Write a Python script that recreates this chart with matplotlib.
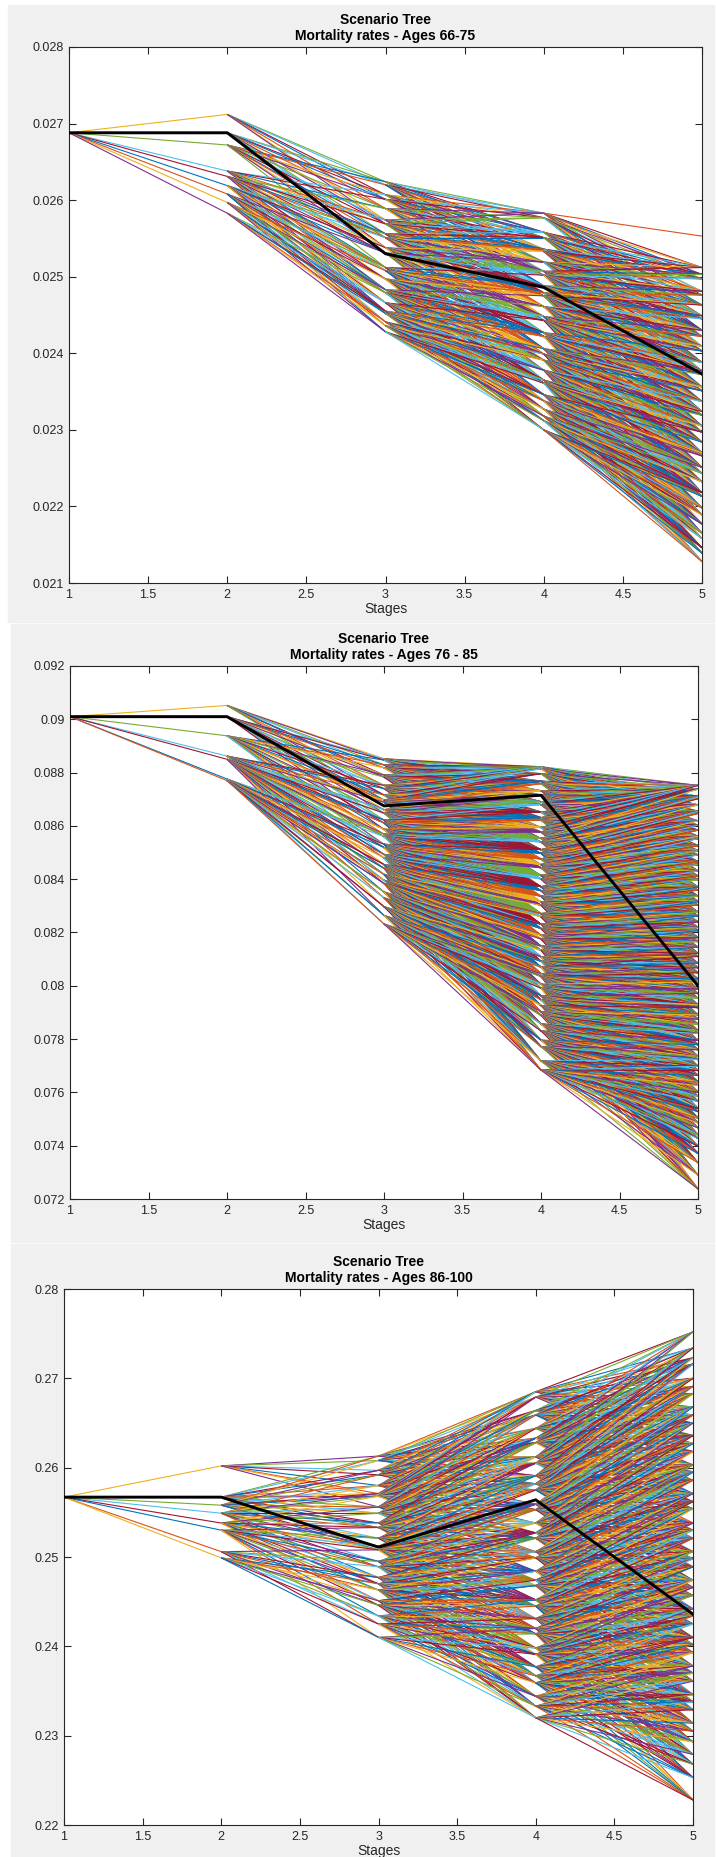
import matplotlib
matplotlib.use("Agg")
import matplotlib.pyplot as plt
from matplotlib.collections import LineCollection
from matplotlib.patches import Rectangle

plt.rcParams['font.family'] = ['Liberation Sans', 'DejaVu Sans']

# MATLAB default line colour order
line_colors = ['#0072BD', '#D95319', '#EDB120', '#7E2F8E', '#77AC30', '#4DBEEE', '#A2142F']

stages = [1, 2, 3, 4, 5]
xticks = [1, 1.5, 2, 2.5, 3, 3.5, 4, 4.5, 5]

# ---- Ages 66-75 ----
title_a = 'Scenario Tree\nMortality rates - Ages 66-75'
yticks_a = [0.021, 0.022, 0.023, 0.024, 0.025, 0.026, 0.027, 0.028]
root_a = [0.02688]
nodes2_a = [0.02712, 0.02688, 0.02672, 0.02638, 0.02631, 0.02619, 0.02608, 0.02597, 0.02583]
nodes3_a = [0.02624, 0.02620, 0.02607, 0.02601, 0.02589, 0.02574, 0.02569, 0.02556, 0.02551,
            0.02538, 0.02531, 0.02512, 0.02508, 0.02497, 0.02483, 0.02479, 0.02466, 0.02455,
            0.02452, 0.02441, 0.02436, 0.02428]
nodes4_a = [0.02583, 0.02577, 0.02558, 0.02551, 0.02536, 0.02533, 0.02519, 0.02507, 0.02502,
            0.02488, 0.02479, 0.02475, 0.02461, 0.02448, 0.02443, 0.02427, 0.02422, 0.02406,
            0.02399, 0.02391, 0.02378, 0.02365, 0.02361, 0.02346, 0.02338, 0.02327, 0.02318,
            0.02312, 0.02300]
nodes5_a = [0.02512, 0.02503, 0.02497, 0.02481, 0.02476, 0.02463, 0.02449, 0.02445, 0.02430,
            0.02422, 0.02409, 0.02403, 0.02388, 0.02377, 0.02372, 0.02356, 0.02351, 0.02337,
            0.02324, 0.02319, 0.02305, 0.02297, 0.02284, 0.02270, 0.02266, 0.02251, 0.02243,
            0.02232, 0.02218, 0.02213, 0.02198, 0.02189, 0.02177, 0.02165, 0.02158, 0.02146,
            0.02139, 0.02128]
lone_a = [0.02583, 0.02553]          # single high branch, stage 4 -> 5
mean_a = [0.02688, 0.02688, 0.02530, 0.02486, 0.02373]

# ---- Ages 76-85 ----
title_b = 'Scenario Tree\nMortality rates - Ages 76 - 85'
yticks_b = [0.072, 0.074, 0.076, 0.078, 0.08, 0.082, 0.084, 0.086, 0.088, 0.09, 0.092]
root_b = [0.09010]
nodes2_b = [0.09052, 0.09010, 0.08938, 0.08862, 0.08850, 0.08776, 0.08770]
nodes3_b = [0.08852, 0.08847, 0.08829, 0.08818, 0.08791, 0.08783, 0.08752, 0.08740, 0.08716,
            0.08697, 0.08689, 0.08661, 0.08648, 0.08622, 0.08611, 0.08587, 0.08569, 0.08560,
            0.08531, 0.08519, 0.08493, 0.08480, 0.08455, 0.08441, 0.08418, 0.08396, 0.08384,
            0.08352, 0.08330, 0.08297, 0.08264, 0.08232]
nodes4_b = [0.08822, 0.08815, 0.08796, 0.08768, 0.08759, 0.08732, 0.08716, 0.08691, 0.08680,
            0.08652, 0.08631, 0.08622, 0.08594, 0.08577, 0.08553, 0.08540, 0.08511, 0.08497,
            0.08476, 0.08455, 0.08443, 0.08414, 0.08401, 0.08372, 0.08357, 0.08336, 0.08315,
            0.08302, 0.08271, 0.08259, 0.08231, 0.08215, 0.08190, 0.08176, 0.08149, 0.08133,
            0.08109, 0.08092, 0.08070, 0.08046, 0.08035, 0.08006, 0.07991, 0.07963, 0.07948,
            0.07926, 0.07903, 0.07889, 0.07857, 0.07831, 0.07796, 0.07772, 0.07718, 0.07684]
nodes5_b = [0.08752, 0.08738, 0.08711, 0.08702, 0.08679, 0.08655, 0.08647, 0.08619, 0.08603,
            0.08584, 0.08561, 0.08552, 0.08526, 0.08507, 0.08491, 0.08466, 0.08455, 0.08431,
            0.08412, 0.08398, 0.08371, 0.08359, 0.08336, 0.08316, 0.08303, 0.08277, 0.08262,
            0.08240, 0.08219, 0.08207, 0.08181, 0.08166, 0.08145, 0.08122, 0.08110, 0.08085,
            0.08068, 0.08049, 0.08026, 0.08014, 0.07988, 0.07971, 0.07953, 0.07929, 0.07918,
            0.07891, 0.07875, 0.07856, 0.07832, 0.07821, 0.07795, 0.07779, 0.07760, 0.07735,
            0.07723, 0.07698, 0.07682, 0.07664, 0.07639, 0.07626, 0.07601, 0.07585, 0.07566,
            0.07540, 0.07528, 0.07503, 0.07486, 0.07467, 0.07441, 0.07427, 0.07398, 0.07371,
            0.07336, 0.07290, 0.07238]
lone_b = None
mean_b = [0.09010, 0.09010, 0.08675, 0.08715, 0.08000]

# ---- Ages 86-100 ----
title_c = 'Scenario Tree\nMortality rates - Ages 86-100'
yticks_c = [0.22, 0.23, 0.24, 0.25, 0.26, 0.27, 0.28]
root_c = [0.2567]
nodes2_c = [0.2602, 0.2567, 0.2558, 0.2549, 0.2538, 0.2530, 0.2506, 0.2499]
nodes3_c = [0.2613, 0.2608, 0.2597, 0.2592, 0.2580, 0.2571, 0.2568, 0.2556, 0.2549, 0.2538,
            0.2533, 0.2521, 0.2512, 0.2508, 0.2495, 0.2489, 0.2477, 0.2470, 0.2463, 0.2451,
            0.2446, 0.2434, 0.2425, 0.2410]
nodes4_c = [0.2685, 0.2679, 0.2664, 0.2659, 0.2644, 0.2633, 0.2628, 0.2612, 0.2605, 0.2591,
            0.2582, 0.2575, 0.2559, 0.2553, 0.2538, 0.2527, 0.2521, 0.2506, 0.2499, 0.2484,
            0.2474, 0.2468, 0.2452, 0.2445, 0.2431, 0.2420, 0.2414, 0.2398, 0.2391, 0.2377,
            0.2367, 0.2359, 0.2344, 0.2333, 0.2320]
nodes5_c = [0.2752, 0.2734, 0.2723, 0.2716, 0.2700, 0.2691, 0.2683, 0.2668, 0.2659, 0.2650,
            0.2636, 0.2627, 0.2618, 0.2603, 0.2595, 0.2586, 0.2571, 0.2562, 0.2554, 0.2538,
            0.2530, 0.2521, 0.2506, 0.2498, 0.2489, 0.2474, 0.2466, 0.2457, 0.2442, 0.2434,
            0.2425, 0.2410, 0.2402, 0.2393, 0.2378, 0.2370, 0.2361, 0.2346, 0.2338, 0.2329,
            0.2314, 0.2305, 0.2293, 0.2279, 0.2268, 0.2253, 0.2228]
lone_c = None
mean_c = [0.2567, 0.2567, 0.2511, 0.2564, 0.2436]


def tree_segments(levels, windows):
    # every node links to the next-stage nodes whose rank lies close to its own
    segs = []
    for t in range(len(levels) - 1):
        par, chi, w = levels[t], levels[t + 1], windows[t]
        for i, pv in enumerate(par):
            p = i / (len(par) - 1) if len(par) > 1 else 0.5
            for j, cv in enumerate(chi):
                q = j / (len(chi) - 1)
                if len(par) == 1 or abs(q - p) <= w:
                    segs.append([(stages[t], pv), (stages[t + 1], cv)])
    return segs


W, H = 716, 1857
fig = plt.figure(figsize=(W / 100, H / 100), dpi=100, facecolor='white')

panels = [
    (title_a, yticks_a, [root_a, nodes2_a, nodes3_a, nodes4_a, nodes5_a], lone_a, mean_a,
     (69, 47, 702, 583), (8, 5, 714, 622)),
    (title_b, yticks_b, [root_b, nodes2_b, nodes3_b, nodes4_b, nodes5_b], lone_b, mean_b,
     (70, 666, 698, 1199), (11, 624, 714, 1242)),
    (title_c, yticks_c, [root_c, nodes2_c, nodes3_c, nodes4_c, nodes5_c], lone_c, mean_c,
     (64, 1289, 693, 1825), (11, 1244, 714, 1857)),
]

for title, yt, levels, lone, mean, (l, t, r, b), (gl, gt, gr, gb) in panels:
    fig.add_artist(Rectangle((gl / W, 1 - gb / H), (gr - gl) / W, (gb - gt) / H,
                             transform=fig.transFigure, color='#f0f0f0', zorder=0))
    ax = fig.add_axes([l / W, 1 - b / H, (r - l) / W, (b - t) / H])
    ax.set_facecolor('white')

    segs = tree_segments(levels, [1.0, 0.32, 0.28, 0.26])
    cols = [line_colors[(k + 2) % len(line_colors)] for k in range(len(segs))]
    ax.add_collection(LineCollection(segs, colors=cols, linewidths=0.8))
    if lone is not None:
        ax.plot(stages[3:], lone, color=line_colors[1], linewidth=0.8)
    ax.plot(stages, mean, color='black', linewidth=2.1, zorder=3)

    ax.set_xlim(1, 5)
    ax.set_ylim(yt[0], yt[-1])
    ax.set_xticks(xticks)
    ax.set_xticklabels([f'{v:g}' for v in xticks])
    ax.set_yticks(yt)
    ax.set_yticklabels([f'{v:g}' for v in yt])
    ax.tick_params(direction='in', length=5, width=0.8, top=True, right=True,
                   labelsize=9, colors='#262626', pad=4)
    for s in ax.spines.values():
        s.set_color('#262626')
        s.set_linewidth(0.8)
    ax.set_title(title, fontsize=10, fontweight='bold', pad=5, linespacing=1.15)
    ax.set_xlabel('Stages', fontsize=10, color='#262626', labelpad=1)

fig.savefig('out.png', dpi=100, facecolor='white')
